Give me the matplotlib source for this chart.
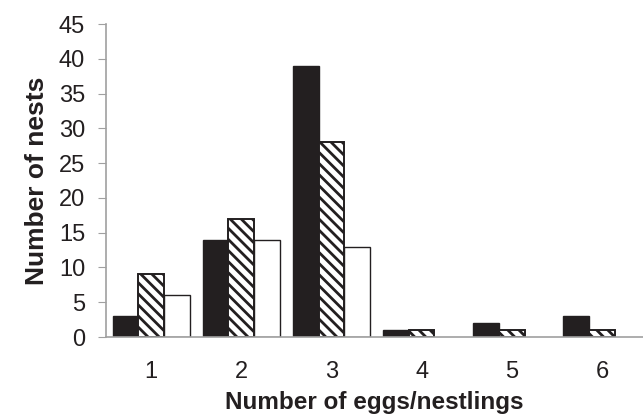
import numpy as np
import matplotlib.pyplot as plt

plt.rcParams['font.family'] = ['Liberation Sans', 'DejaVu Sans']
plt.rcParams['hatch.linewidth'] = 2.0

categories = ['1', '2', '3', '4', '5', '6']
solid = [3, 14, 39, 1, 2, 3]
hatched = [9, 17, 28, 1, 1, 1]
empty = [6, 14, 13, 0, 0, 0]

fig = plt.figure(figsize=(6.43, 4.18), dpi=100)
# axis origin at (106, 337) px, top of axis at y=24 px
ax = fig.add_axes([106 / 643, 81 / 418, 537 / 643, 313 / 418])

x = np.arange(1, len(categories) + 1)
w = 0.285
ax.bar(x - w, solid, w, color='#231f20', edgecolor='#231f20', linewidth=1)
ax.bar(x, hatched, w, color='white', edgecolor='#231f20', hatch='\\\\\\', linewidth=1.4)
ax.bar(x + w, [v if v > 0 else np.nan for v in empty], w, color='white', edgecolor='#231f20', linewidth=1)

ax.set_xlim(0.5, 6.455)
ax.set_ylim(0, 45)
ax.set_yticks(range(0, 46, 5))
ax.set_xticks(x)
ax.set_xticklabels(categories)

for s in ['top', 'right']:
    ax.spines[s].set_visible(False)
for s in ['left', 'bottom']:
    ax.spines[s].set_color('#a0a0a0')
    ax.spines[s].set_linewidth(1.2)

ax.tick_params(axis='y', length=6, color='#a0a0a0', labelsize=17, labelcolor='#231f20', pad=9)
ax.tick_params(axis='x', length=0, labelsize=17, labelcolor='#231f20', pad=17)

ax.set_xlabel('Number of eggs/nestlings', fontsize=17.5, fontweight='bold', color='#231f20', labelpad=6)
ax.set_ylabel('Number of nests', fontsize=19, fontweight='bold', color='#231f20', labelpad=7)

fig.savefig('out.png', dpi=100)
